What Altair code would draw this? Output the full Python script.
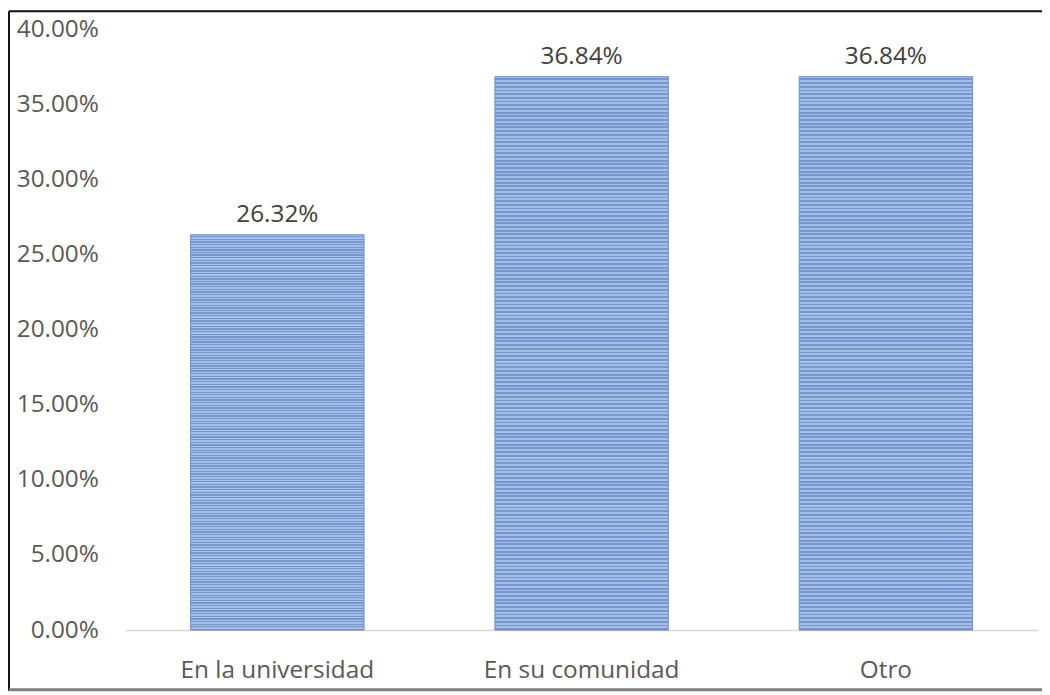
import altair as alt
import pandas as pd

categories = ["En la universidad", "En su comunidad", "Otro"]
values = [0.2632, 0.3684, 0.3684]
tick_values = [0.0, 0.05, 0.10, 0.15, 0.20, 0.25, 0.30, 0.35, 0.40]

df = pd.DataFrame({"cat": categories, "val": values})

# striped fill (horizontal lines) approximated with a gradient
n_stripes = 150
stops = []
for i in range(n_stripes):
    a = i / n_stripes
    b = (i + 0.5) / n_stripes
    c = (i + 1) / n_stripes
    stops.append(alt.GradientStop(offset=a, color="#a6bde5"))
    stops.append(alt.GradientStop(offset=b, color="#a6bde5"))
    stops.append(alt.GradientStop(offset=b, color="#7597cf"))
    stops.append(alt.GradientStop(offset=c, color="#7597cf"))
grad = alt.Gradient(gradient="linear", stops=stops, x1=0, x2=0, y1=0, y2=1)

W, H = 919, 605
FONT = "Open Sans"
FS = 24.5

base = alt.Chart(df)

bars = base.mark_bar(color=grad, stroke="#6f90c8", strokeWidth=1).encode(
    x=alt.X("cat:N", sort=categories, title=None,
            scale=alt.Scale(paddingInner=0.43, paddingOuter=0.215),
            axis=alt.Axis(labelAngle=0, labelFont=FONT, labelFontSize=FS,
                          labelColor="#595959", labelPadding=29, ticks=False,
                          labelLimit=500,
                          domainColor="#d9d9d9", domainWidth=1.5)),
    y=alt.Y("val:Q", title=None,
            scale=alt.Scale(domain=[0, 0.4], nice=False),
            axis=alt.Axis(values=tick_values, format=".2%", grid=False,
                          domain=False, ticks=False, tickSize=0,
                          labelFont=FONT, labelFontSize=FS, labelLimit=500,
                          labelColor="#595959", labelPadding=27)),
)

labels = base.mark_text(font=FONT, fontSize=FS, color="#404040",
                        baseline="alphabetic", dy=-13).encode(
    x=alt.X("cat:N", sort=categories),
    y=alt.Y("val:Q"),
    text=alt.Text("val:Q", format=".2%"),
)

frame_df = pd.DataFrame({"a": [0]})
top_line = alt.Chart(frame_df).mark_rule(color="#111111", strokeWidth=2).encode(
    x=alt.value(-117), x2=alt.value(925), y=alt.value(-18))
left_line = alt.Chart(frame_df).mark_rule(color="#111111", strokeWidth=2).encode(
    x=alt.value(-117), y=alt.value(-18), y2=alt.value(666))
bottom_line = alt.Chart(frame_df).mark_rule(color="#808080", strokeWidth=3).encode(
    x=alt.value(-117), x2=alt.value(925), y=alt.value(665))

chart = alt.layer(bars, labels, top_line, left_line, bottom_line).properties(
    width=W, height=H,
    autosize=alt.AutoSizeParams(type="none"),
    padding={"left": 118, "top": 19, "right": 4, "bottom": 62},
).configure(background="white").configure_view(stroke=None, strokeWidth=0)

chart.save("out.html", embed_options={"renderer": "svg", "actions": False})
